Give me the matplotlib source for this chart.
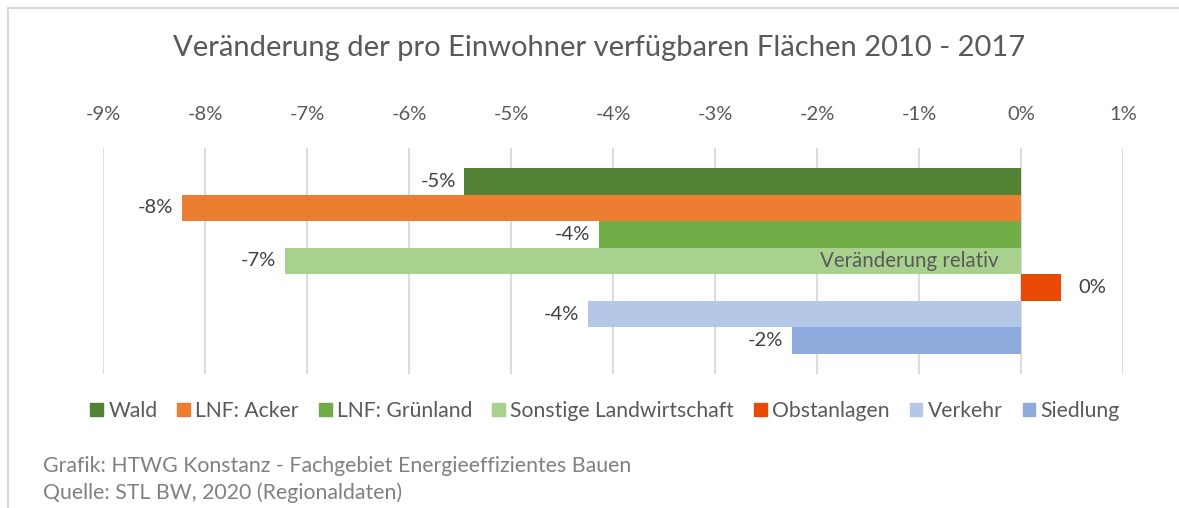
import matplotlib
matplotlib.use("Agg")
import matplotlib.pyplot as plt
from matplotlib.patches import Rectangle

plt.rcParams['font.family'] = ['Lato', 'DejaVu Sans']

categories = ["Wald", "LNF: Acker", "LNF: Grünland", "Sonstige Landwirtschaft",
              "Obstanlagen", "Verkehr", "Siedlung"]
values = [-5.46, -8.23, -4.14, -7.22, 0.39, -4.25, -2.25]
labels = ["-5%", "-8%", "-4%", "-7%", "0%", "-4%", "-2%"]
colors = ["#548235", "#ED7D31", "#70AD47", "#A9D18E", "#E84A05", "#B4C7E7", "#8FAADC"]
ticks = list(range(-9, 2))
tick_labels = [f"{t}%" for t in ticks]

W, H = 1179, 508
fig = plt.figure(figsize=(W / 100, H / 100), dpi=100)

# outer chart border
fig.add_artist(Rectangle((8 / W, -0.05), 1.2, 1 - 8 / H + 0.05, transform=fig.transFigure,
                         fill=False, edgecolor="#D9D9D9", linewidth=1.5))

ax = fig.add_axes([103 / W, 1 - 374 / H, (1123 - 103) / W, (374 - 148) / H])
pos = list(range(len(values)))
ax.barh(pos, values, height=1.0, color=colors, zorder=3)
ax.set_xlim(-9, 1)
ax.set_ylim(7.25, -1.25)
ax.set_xticks(ticks)
ax.set_xticklabels(tick_labels)
ax.xaxis.tick_top()
ax.tick_params(axis='x', length=0, pad=18, labelsize=14.5, labelcolor="#595959")
ax.set_yticks([])
ax.grid(axis='x', color="#D9D9D9", linewidth=1.3, zorder=0)
for s in ax.spines.values():
    s.set_visible(False)

for p, v, lab in zip(pos, values, labels):
    if v < 0:
        ax.text(v - 0.08, p, lab, ha='right', va='center', fontsize=14.5, color="#404040", zorder=4)
    else:
        ax.text(v + 0.17, p, lab, ha='left', va='center', fontsize=14.5, color="#404040", zorder=4)

ax.text(-0.22, 3, "Veränderung relativ", ha='right', va='center', fontsize=14.8,
        color="#595959", zorder=4)

fig.text(599 / W, 1 - 48 / H, "Veränderung der pro Einwohner verfügbaren Flächen 2010 - 2017",
         ha='center', va='center', fontsize=21, color="#595959")

handles = [Rectangle((0, 0), 1, 1, color=c) for c in colors]
leg = fig.legend(handles, categories, loc='center', bbox_to_anchor=(605 / W, 1 - 411 / H),
                 ncol=7, frameon=False, fontsize=15.2, handlelength=0.6, handleheight=0.6,
                 handletextpad=0.25, columnspacing=0.95, labelcolor="#595959",
                 borderpad=0, borderaxespad=0)

fig.text(43 / W, 1 - 466 / H, "Grafik: HTWG Konstanz - Fachgebiet Energieeffizientes Bauen",
         ha='left', va='center', fontsize=15.3, color="#808080")
fig.text(43 / W, 1 - 493 / H, "Quelle: STL BW, 2020 (Regionaldaten)",
         ha='left', va='center', fontsize=15.3, color="#808080")

fig.savefig("out.png", dpi=100)
